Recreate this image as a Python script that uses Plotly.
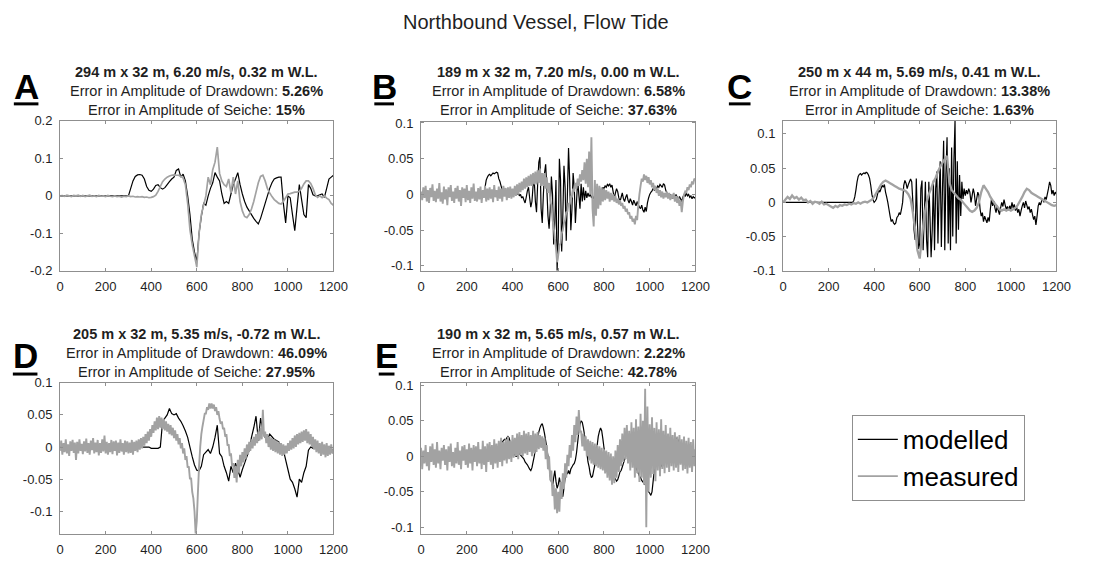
import numpy as np
import plotly.graph_objects as go

# ---------------------------------------------------------------------------
# Water-level records (m) versus time (s), 0-1200 s.
# Step-10 series hold 121 samples, step-5 series hold 241 samples.
# ---------------------------------------------------------------------------

# Panel A: 294 m x 32 m, 6.20 m/s, 0.32 m W.L.
a_modelled = (
    [0.0] * 10
    + [0.0] * 10
    + [0.0] * 10
    + [0.000, 0.020, 0.040, 0.052, 0.056, 0.057, 0.055, 0.045, 0.025, 0.015]
    + [0.012, 0.018, 0.028, 0.030, 0.022, 0.018, 0.022, 0.030, 0.038, 0.045]
    + [0.050, 0.068, 0.072, 0.050, 0.058, 0.040, 0.000, -0.050, -0.115, -0.150]
    + [-0.175, -0.100, -0.055, -0.020, -0.025, 0.000, 0.020, 0.035, 0.062, 0.050]
    + [0.040, 0.005, -0.020, -0.015, -0.020, 0.005, 0.030, 0.045, 0.062, 0.030]
    + [0.005, -0.015, -0.030, -0.040, -0.050, -0.060, -0.068, -0.075, -0.060, -0.040]
    + [-0.020, 0.000, 0.020, 0.035, 0.045, 0.048, 0.050, 0.050, -0.020, -0.072]
    + [0.000, -0.005, -0.050, -0.093, -0.030, 0.030, -0.010, -0.050, -0.058, 0.030]
    + [0.020, 0.003, 0.000, 0.000, 0.003, 0.005, -0.004, 0.020, 0.045, 0.050]
    + [0.055]
)
a_measured = (
    [0.000, 0.001, -0.001, 0.002, 0.000, -0.002, 0.001, 0.000, 0.002, -0.001]
    + [0.001, -0.002, 0.000, 0.002, -0.001, 0.000, -0.002, 0.001, -0.001, 0.000]
    + [-0.002, 0.001, -0.001, -0.002, 0.000, -0.002, -0.001, -0.003, -0.001, -0.002]
    + [0.000, -0.002, -0.001, -0.003, -0.002, -0.003, -0.002, -0.004, -0.003, -0.005]
    + [-0.004, -0.002, 0.002, 0.012, 0.025, 0.038, 0.045, 0.050, 0.053, 0.055]
    + [0.056, 0.055, 0.055, 0.052, 0.048, 0.030, -0.020, -0.090, -0.130, -0.160]
    + [-0.190, -0.100, -0.050, -0.025, 0.000, 0.050, 0.030, 0.070, 0.090, 0.130]
    + [0.060, 0.040, 0.030, 0.025, 0.045, 0.008, 0.050, 0.005, 0.040, -0.015]
    + [-0.040, -0.055, -0.058, -0.050, -0.035, -0.015, 0.010, 0.035, 0.052, 0.055]
    + [0.040, 0.020, 0.008, -0.002, -0.010, -0.015, -0.020, -0.022, -0.015, -0.005]
    + [0.005, 0.006, 0.008, 0.010, 0.010, 0.012, 0.020, 0.032, 0.040, 0.040]
    + [0.033, 0.020, 0.003, -0.004, 0.000, -0.005, 0.000, -0.006, -0.010, -0.020]
    + [-0.025]
)

# Panel B: 189 m x 32 m, 7.20 m/s, 0.00 m W.L.
b_modelled = (
    [0.0] * 20
    + [0.0] * 20
    + [0.0] * 16 + [0.010, 0.020, 0.024, 0.027]
    + [0.028, 0.026, 0.028, 0.030, 0.029, 0.030, 0.031, 0.030, 0.022, 0.018,
       0.012, 0.006, 0.002, 0.000, 0.001, 0.003, 0.005, 0.002, 0.004, 0.000]
    + [0.003, 0.005, 0.002, 0.004, 0.000, 0.003, -0.002, 0.000, -0.005, -0.003,
       -0.008, -0.012, -0.004, 0.005, 0.010, -0.005, -0.018, -0.010, 0.012, 0.020]
    + [-0.010, -0.025, 0.015, 0.045, 0.052, -0.020, -0.040, 0.000, 0.030, 0.042,
       0.010, -0.030, -0.048, -0.020, 0.025, 0.000, -0.070, -0.040, 0.020, -0.107]
    + [-0.060, 0.050, 0.020, -0.080, -0.030, 0.040, 0.010, -0.065, 0.000, 0.065,
       0.020, -0.050, -0.020, 0.030, 0.010, -0.040, -0.010, 0.020, 0.000, -0.020]
    + [0.015, -0.010, 0.010, -0.008, 0.005, -0.005, 0.002, -0.003, 0.000, -0.004,
       -0.002, -0.006, -0.002, 0.003, -0.004, 0.002, 0.002, 0.006, 0.004, 0.010]
    + [0.008, 0.012, 0.010, 0.014, 0.012, 0.015, 0.010, 0.013, 0.004, -0.006,
       0.002, 0.008, 0.004, -0.005, -0.010, -0.004, 0.002, -0.006, -0.010, -0.004]
    + [0.000, -0.008, -0.012, -0.006, -0.010, -0.015, -0.008, -0.012, -0.016, -0.010,
       -0.014, -0.018, -0.020, -0.015, -0.022, -0.025, -0.018, -0.024, -0.012, -0.005]
    + [0.000, 0.003, 0.005, 0.008, 0.006, 0.010, 0.008, 0.012, 0.010, 0.014,
       0.012, 0.010, 0.015, 0.013, 0.006, 0.002, 0.000, -0.004, 0.000, -0.003]
    + [-0.006, -0.002, -0.005, 0.000, -0.004, -0.008, -0.003, -0.006, -0.010, -0.004,
       0.000, -0.003, 0.002, -0.002, 0.000, -0.004, -0.002, -0.006, -0.003, -0.005]
    + [-0.004]
)
b_measured = (
    [0.004, -0.008, 0.010, -0.005, 0.012, -0.010, 0.006, -0.012, 0.009, -0.004,
     0.014, -0.009, 0.005, -0.011, 0.008, -0.006, 0.016, -0.010, 0.003, -0.013]
    + [0.011, -0.007, 0.007, -0.015, 0.010, -0.004, 0.013, -0.009, 0.004, -0.012,
       0.009, -0.006, 0.012, -0.010, 0.006, -0.016, 0.010, -0.005, 0.008, -0.011]
    + [0.013, -0.008, 0.005, -0.012, 0.010, -0.006, 0.015, -0.009, 0.004, -0.010,
       0.009, -0.007, 0.011, -0.012, 0.006, -0.005, 0.012, -0.010, 0.008, -0.008]
    + [0.010, -0.006, 0.007, -0.011, 0.013, -0.004, 0.006, -0.009, 0.011, -0.006,
       0.008, -0.010, 0.012, -0.003, 0.009, -0.008, 0.010, -0.005, 0.011, -0.006]
    + [0.008, -0.004, 0.012, -0.002, 0.014, 0.000, 0.016, 0.003, 0.018, 0.006,
       0.022, 0.008, 0.024, 0.010, 0.026, 0.012, 0.028, 0.012, 0.030, 0.014]
    + [0.032, 0.014, 0.034, 0.016, 0.036, 0.012, 0.030, 0.012, 0.030, 0.008,
       0.024, 0.002, 0.016, -0.008, -0.015, -0.035, -0.045, -0.062, -0.075, -0.095]
    + [-0.085, -0.072, -0.068, -0.055, -0.050, -0.040, -0.036, -0.025, -0.024, -0.012,
       -0.014, -0.002, -0.004, 0.008, 0.004, 0.016, 0.008, 0.022, 0.012, 0.028]
    + [0.018, 0.034, 0.020, 0.045, 0.015, 0.050, 0.010, 0.060, 0.000, 0.080,
       -0.020, -0.045, 0.020, -0.030, 0.015, -0.020, 0.012, -0.015, 0.010, -0.010]
    + [0.008, -0.008, 0.006, -0.006, 0.004, -0.010, 0.002, -0.008, 0.000, -0.010,
       -0.002, -0.012, -0.006, -0.014, -0.008, -0.016, -0.012, -0.020, -0.016, -0.024]
    + [-0.020, -0.028, -0.025, -0.034, -0.030, -0.038, -0.034, -0.042, -0.030, -0.036,
       -0.015, 0.000, 0.012, 0.022, 0.018, 0.028, 0.020, 0.026, 0.016, 0.024]
    + [0.014, 0.020, 0.010, 0.016, 0.006, 0.012, 0.002, 0.008, -0.002, 0.006,
       -0.004, 0.004, -0.006, 0.002, -0.004, 0.004, -0.006, 0.002, -0.008, 0.000]
    + [-0.006, 0.002, -0.010, -0.002, -0.012, -0.004, -0.016, -0.008, -0.025, -0.010,
       0.000, 0.004, 0.002, 0.010, 0.006, 0.014, 0.010, 0.018, 0.014, 0.022]
    + [0.020]
)

# Panel C: 250 m x 44 m, 5.69 m/s, 0.41 m W.L.
c_modelled = (
    [0.0] * 20
    + [0.0] * 20
    + [0.0] * 20
    + [0.000, 0.000, 0.002, 0.008, 0.018, 0.030, 0.038, 0.041, 0.042, 0.040,
       0.042, 0.043, 0.042, 0.044, 0.043, 0.040, 0.035, 0.025, 0.012, 0.004]
    + [0.000, 0.002, 0.005, 0.012, 0.018, 0.015, 0.020, 0.025, 0.022, 0.026,
       0.015, 0.008, 0.000, -0.010, -0.020, -0.028, -0.025, -0.030, -0.032, -0.030]
    + [-0.022, -0.020, -0.015, -0.018, -0.010, 0.000, 0.025, 0.032, 0.028, 0.020,
       0.026, 0.030, 0.034, 0.030, 0.000, -0.040, -0.055, 0.035, -0.030, -0.068]
    + [-0.060, 0.020, 0.032, -0.070, -0.020, 0.030, -0.055, -0.080, 0.030, -0.020,
       -0.080, -0.040, 0.032, -0.070, 0.020, 0.045, -0.060, 0.010, 0.060, -0.065]
    + [0.020, 0.090, -0.070, 0.040, 0.095, -0.060, 0.050, -0.070, 0.080, -0.050,
       0.060, 0.120, -0.060, 0.060, -0.040, 0.040, -0.020, 0.030, 0.005, 0.020]
    + [0.010, 0.018, 0.012, 0.020, 0.015, 0.000, 0.010, 0.020, 0.012, -0.005,
       0.005, 0.015, 0.010, -0.010, -0.020, -0.015, -0.028, -0.020, -0.025, -0.030]
    + [-0.022, -0.028, -0.010, 0.005, -0.005, 0.002, -0.008, -0.015, -0.005, -0.012,
       -0.018, -0.008, 0.000, -0.006, 0.004, -0.004, -0.010, -0.006, -0.012, -0.005]
    + [-0.010, 0.000, -0.008, -0.003, -0.012, -0.006, -0.015, -0.010, -0.020, -0.012,
       -0.005, 0.000, -0.008, 0.002, -0.004, -0.010, -0.006, -0.015, -0.010, -0.018]
    + [-0.025, -0.020, -0.033, -0.020, -0.005, 0.000, -0.004, 0.002, 0.005, 0.000,
       0.008, 0.004, 0.012, 0.020, 0.030, 0.025, 0.012, 0.018, 0.010, 0.015]
    + [0.012]
)
c_measured = (
    [0.000, 0.004, 0.008, 0.005, 0.010, 0.006, 0.008, 0.004, 0.007, 0.003]
    + [0.004, 0.000, 0.002, -0.002, 0.001, 0.000, -0.002, 0.001, -0.003, -0.002]
    + [-0.004, -0.006, -0.008, -0.005, -0.007, -0.004, -0.005, -0.003, -0.004, -0.002]
    + [-0.003, -0.001, -0.002, 0.000, -0.002, 0.000, 0.001, 0.000, 0.002, 0.004]
    + [0.008, 0.014, 0.020, 0.026, 0.030, 0.032, 0.030, 0.028, 0.026, 0.024]
    + [0.022, 0.020, 0.019, 0.018, 0.016, 0.012, 0.005, -0.015, -0.040, -0.070]
    + [-0.082, -0.050, -0.020, 0.000, 0.012, 0.020, 0.030, 0.036, 0.045, 0.052]
    + [0.058, 0.063, 0.068, 0.030, 0.018, 0.014, 0.010, 0.006, 0.004, 0.000]
    + [-0.004, -0.008, -0.012, -0.014, -0.012, -0.008, 0.000, 0.015, 0.025, 0.020]
    + [0.015, 0.008, 0.003, -0.002, -0.006, -0.010, -0.012, -0.010, -0.012, -0.010]
    + [-0.012, -0.010, -0.008, -0.004, 0.002, 0.008, 0.015, 0.020, 0.018, 0.014]
    + [0.012, 0.010, 0.008, 0.006, 0.004, 0.002, 0.000, -0.002, -0.004, -0.005]
    + [-0.004]
)

# Panel D: 205 m x 32 m, 5.35 m/s, -0.72 m W.L.
d_modelled = (
    [0.0] * 10
    + [0.0] * 10
    + [0.0] * 10
    + [0.0] * 10
    + [-0.002, -0.002, -0.002, -0.002, 0.000, 0.040, 0.045, 0.050, 0.060, 0.052]
    + [0.050, 0.052, 0.045, 0.040, 0.033, 0.025, 0.015, 0.000, -0.015, -0.028]
    + [-0.036, -0.037, -0.030, -0.012, -0.008, -0.004, -0.010, 0.000, 0.015, 0.034]
    + [-0.010, -0.015, -0.030, -0.040, -0.053, -0.030, -0.040, -0.025, -0.035, -0.047]
    + [-0.035, -0.025, -0.015, -0.005, 0.015, 0.030, 0.048, 0.010, 0.045, 0.025]
    + [0.015, 0.012, 0.020, 0.016, 0.012, 0.010, 0.008, 0.002, -0.005, -0.020]
    + [-0.035, -0.050, -0.055, -0.065, -0.078, -0.050, -0.055, -0.040, -0.030, -0.005]
    + [0.000, -0.002, 0.000, -0.003, -0.002, 0.000, -0.003, -0.004, -0.005, -0.004]
    + [-0.005]
)
d_measured = (
    [-0.006, 0.010, -0.012, 0.006, -0.008, 0.012, -0.010, 0.004, -0.014, 0.009,
     -0.006, 0.011, -0.009, 0.007, -0.020, 0.008, -0.010, 0.012, -0.006, 0.005]
    + [-0.011, 0.009, -0.007, 0.013, -0.009, 0.006, -0.012, 0.010, -0.005, 0.014,
       -0.010, 0.007, -0.008, 0.011, -0.013, 0.006, -0.009, 0.012, -0.007, 0.018]
    + [-0.010, 0.008, -0.012, 0.006, -0.008, 0.011, -0.011, 0.009, -0.006, 0.010,
       -0.013, 0.007, -0.009, 0.012, -0.007, 0.006, -0.012, 0.010, -0.008, 0.009]
    + [-0.010, 0.007, -0.009, 0.011, -0.012, 0.008, -0.006, 0.010, -0.008, 0.012,
       -0.004, 0.014, -0.002, 0.016, 0.002, 0.020, 0.006, 0.024, 0.010, 0.028]
    + [0.016, 0.034, 0.022, 0.040, 0.026, 0.046, 0.028, 0.048, 0.030, 0.046,
       0.028, 0.044, 0.026, 0.040, 0.024, 0.036, 0.020, 0.034, 0.018, 0.030]
    + [0.014, 0.026, 0.010, 0.020, 0.004, 0.014, -0.002, 0.006, -0.010, -0.002,
       -0.020, -0.014, -0.032, -0.030, -0.050, -0.048, -0.070, -0.080, -0.100, -0.135]
    + [-0.115, -0.070, -0.030, 0.000, 0.020, 0.032, 0.042, 0.052, 0.052, 0.062,
       0.058, 0.068, 0.060, 0.068, 0.060, 0.066, 0.056, 0.062, 0.050, 0.056]
    + [0.044, 0.036, 0.040, 0.028, 0.030, 0.016, 0.020, 0.002, 0.004, -0.014,
       -0.010, -0.030, -0.025, -0.048, -0.030, -0.055, -0.020, -0.040, -0.012, -0.030]
    + [-0.008, -0.024, -0.002, -0.018, 0.004, -0.012, 0.008, -0.006, 0.012, -0.002,
       0.016, 0.002, 0.020, 0.006, 0.024, 0.010, 0.030, 0.012, 0.058, 0.016]
    + [0.024, 0.006, 0.020, 0.000, 0.016, -0.004, 0.014, -0.006, 0.012, -0.008,
       0.010, -0.010, 0.008, -0.012, 0.006, -0.014, 0.004, -0.012, 0.002, -0.010]
    + [0.006, -0.006, 0.010, -0.004, 0.014, -0.002, 0.018, 0.000, 0.020, 0.004,
       0.022, 0.006, 0.024, 0.008, 0.026, 0.010, 0.028, 0.006, 0.024, 0.004]
    + [0.020, 0.000, 0.016, -0.004, 0.012, -0.008, 0.010, -0.010, 0.006, -0.014,
       0.008, -0.012, 0.004, -0.016, 0.006, -0.014, 0.002, -0.012, 0.004, -0.010]
    + [-0.008]
)

# Panel E: 190 m x 32 m, 5.65 m/s, 0.57 m W.L.
e_modelled = (
    [0.0] * 20
    + [0.0] * 20
    + [0.0] * 20
    + [0.000, 0.000, 0.000, 0.000, 0.002, 0.004, 0.006, 0.008, 0.010, 0.015,
       0.018, 0.020, 0.022, 0.024, 0.023, 0.026, 0.028, 0.026, 0.020, 0.014]
    + [0.008, 0.004, 0.002, 0.000, 0.000, 0.002, 0.004, 0.002, 0.000, -0.002,
       -0.004, -0.008, -0.010, -0.012, -0.015, -0.018, -0.020, -0.016, -0.008, 0.000]
    + [0.010, 0.018, 0.026, 0.034, 0.040, 0.044, 0.046, 0.040, 0.032, 0.022,
       0.012, 0.000, -0.015, -0.028, -0.036, -0.042, -0.030, -0.020, -0.035, -0.045]
    + [-0.040, -0.030, -0.040, -0.050, -0.057, -0.045, -0.030, -0.020, -0.025, -0.020,
       -0.025, -0.018, -0.015, -0.012, -0.010, -0.005, 0.005, 0.020, 0.035, 0.045]
    + [0.050, 0.048, 0.040, 0.030, 0.018, 0.005, -0.008, -0.015, -0.025, -0.030,
       -0.028, -0.020, -0.012, 0.000, 0.015, 0.028, 0.035, 0.040, 0.036, 0.025]
    + [0.012, 0.002, -0.004, -0.008, -0.010, -0.012, -0.015, -0.020, -0.025, -0.030,
       -0.032, -0.035, -0.033, -0.028, -0.022, -0.020, -0.015, -0.010, -0.005, 0.000]
    + [0.004, 0.006, 0.004, 0.002, 0.000, -0.004, -0.008, -0.012, -0.016, -0.020,
       -0.024, -0.028, -0.030, -0.034, -0.036, -0.038, -0.040, -0.042, -0.045, -0.050]
    + [-0.052, -0.055, -0.050, -0.035, -0.020, -0.012, -0.008, -0.005, -0.004, -0.008,
       -0.012, -0.015, -0.010, -0.004, 0.000, 0.004, 0.008, 0.010, 0.012, 0.015]
    + [0.018, 0.020, 0.022, 0.025, 0.026, 0.022, 0.018, 0.014, 0.010, 0.006,
       0.004, 0.002, 0.000, -0.002, -0.003, -0.004, -0.003, -0.002, -0.002, -0.001]
    + [0.000]
)
e_measured = (
    [0.012, -0.018, 0.008, -0.010, 0.016, -0.014, 0.006, -0.020, 0.014, -0.008,
     0.018, -0.012, 0.010, -0.016, 0.020, -0.010, 0.008, -0.018, 0.012, -0.006]
    + [0.016, -0.012, 0.010, -0.020, 0.014, -0.008, 0.018, -0.014, 0.006, -0.016,
       0.012, -0.010, 0.020, -0.012, 0.008, -0.018, 0.014, -0.006, 0.016, -0.012]
    + [0.010, -0.016, 0.018, -0.010, 0.012, -0.020, 0.016, -0.008, 0.014, -0.014,
       0.020, -0.010, 0.010, -0.018, 0.022, -0.012, 0.014, -0.022, 0.018, -0.008]
    + [0.020, -0.012, 0.016, -0.018, 0.024, -0.010, 0.018, -0.016, 0.022, -0.008,
       0.026, -0.014, 0.020, -0.006, 0.024, -0.010, 0.028, -0.004, 0.022, -0.008]
    + [0.030, -0.002, 0.026, 0.000, 0.032, -0.004, 0.034, 0.002, 0.030, 0.000,
       0.036, 0.004, 0.032, 0.002, 0.034, 0.006, 0.030, 0.000, 0.036, 0.004]
    + [0.032, 0.006, 0.034, 0.010, 0.030, 0.012, 0.028, 0.008, 0.026, -0.004,
       0.016, -0.018, 0.000, -0.034, -0.020, -0.056, -0.040, -0.075, -0.045, -0.080]
    + [-0.050, -0.078, -0.036, -0.060, -0.024, -0.046, -0.010, -0.030, 0.002, -0.014,
       0.016, -0.002, 0.030, 0.008, 0.044, 0.020, 0.056, 0.030, 0.065, 0.034]
    + [0.036, 0.014, 0.032, 0.008, 0.028, 0.000, 0.024, -0.006, 0.022, -0.010,
       0.020, -0.012, 0.018, -0.014, 0.016, -0.016, 0.014, -0.018, 0.012, -0.020]
    + [0.010, -0.024, 0.008, -0.030, 0.006, -0.034, 0.004, -0.040, 0.000, -0.038,
       0.008, -0.030, 0.016, -0.022, 0.024, -0.014, 0.032, -0.008, 0.040, -0.004]
    + [0.044, -0.010, 0.036, -0.020, 0.048, -0.016, 0.040, -0.030, 0.052, -0.024,
       0.042, -0.036, 0.060, -0.030, 0.050, -0.040, 0.095, -0.100, 0.070, -0.050]
    + [0.045, -0.030, 0.055, -0.025, 0.040, -0.035, 0.048, -0.020, 0.038, -0.028,
       0.052, -0.018, 0.036, -0.024, 0.044, -0.016, 0.032, -0.022, 0.040, -0.014]
    + [0.030, -0.020, 0.034, -0.016, 0.028, -0.022, 0.030, -0.012, 0.024, -0.020,
       0.028, -0.018, 0.022, -0.024, 0.026, -0.016, 0.020, -0.022, 0.024, -0.014]
    + [0.010]
)

# Panel captions
panel_letters = ["A", "B", "C", "D", "E"]
vessel_runs = [
    "294 m x 32 m, 6.20 m/s, 0.32 m W.L.",
    "189 m x 32 m, 7.20 m/s, 0.00 m W.L.",
    "250 m x 44 m, 5.69 m/s, 0.41 m W.L.",
    "205 m x 32 m, 5.35 m/s, -0.72 m W.L.",
    "190 m x 32 m, 5.65 m/s, 0.57 m W.L.",
]
drawdown_errors = ["5.26%", "6.58%", "13.38%", "46.09%", "2.22%"]
seiche_errors = ["15%", "37.63%", "1.63%", "27.95%", "42.78%"]

# Axis ticks
x_ticks = [0, 200, 400, 600, 800, 1000, 1200]
y_ticks_a = [-0.2, -0.1, 0, 0.1, 0.2]
y_labels_a = ["-0.2", "-0.1", "0", "0.1", "0.2"]
y_ticks_small = [-0.1, -0.05, 0, 0.05, 0.1]
y_labels_small = ["-0.1", "-0.05", "0", "0.05", "0.1"]

series_modelled = [a_modelled, b_modelled, c_modelled, d_modelled, e_modelled]
series_measured = [a_measured, b_measured, c_measured, d_measured, e_measured]

# ---------------------------------------------------------------------------
# Layout (pixel geometry of each axes box: left, right, top, bottom)
# ---------------------------------------------------------------------------
W, H = 1096, 568
FONT = "Liberation Sans, Arial, Helvetica, sans-serif"
TEXT = "#1f1f1f"
FRAME = "#8f8f8f"
GREY = "#a2a2a2"

boxes = [
    (57, 335, 117, 271),
    (424, 703, 118, 271),
    (792, 1070, 117, 271),
    (57, 335, 386, 541),
    (424, 703, 386, 541),
]
y_ranges = [[-0.2, 0.2], [-0.107, 0.1015], [-0.1, 0.119], [-0.135, 0.1], [-0.109, 0.1035]]
# dense records need a wider stroke so the noise reads as a solid band
measured_widths = [1.7, 1.9, 2.3, 1.9, 1.9]

fig = go.Figure()

for i in range(5):
    ax = "" if i == 0 else str(i + 1)
    mod = series_modelled[i]
    meas = series_measured[i]
    t_mod = np.linspace(0, 1200, len(mod))
    t_meas = np.linspace(0, 1200, len(meas))
    fig.add_trace(go.Scatter(
        x=t_mod, y=mod, mode="lines", name="modelled",
        line=dict(color="black", width=1.2, simplify=False),
        xaxis="x" + ax, yaxis="y" + ax, showlegend=(i == 0),
    ))
    fig.add_trace(go.Scatter(
        x=t_meas, y=meas, mode="lines", name="measured",
        line=dict(color=GREY, width=measured_widths[i], simplify=False),
        xaxis="x" + ax, yaxis="y" + ax, showlegend=(i == 0),
    ))

    left, right, top, bottom = boxes[i]
    common = dict(
        showline=True, linecolor=FRAME, linewidth=1, mirror="ticks",
        ticks="inside", ticklen=3, tickcolor=FRAME, tickwidth=1,
        showgrid=False, zeroline=False,
        tickfont=dict(family=FONT, size=13, color=TEXT),
        ticklabelstandoff=4,
    )
    if i == 0:
        yt, yl = y_ticks_a, y_labels_a
    else:
        yt, yl = y_ticks_small, y_labels_small
    fig.update_layout(**{
        "xaxis" + ax: dict(
            domain=[left / W, right / W], range=[0, 1200],
            tickmode="array", tickvals=x_ticks,
            anchor="y" + ax, **common,
        ),
        "yaxis" + ax: dict(
            domain=[1 - bottom / H, 1 - top / H], range=y_ranges[i],
            tickmode="array", tickvals=yt, ticktext=yl,
            anchor="x" + ax, **common,
        ),
    })

annotations = []
shapes = []

# Figure title
annotations.append(dict(
    text="Northbound Vessel, Flow Tide", x=541 / W, y=1 - 15 / H,
    xref="paper", yref="paper", xanchor="center", yanchor="middle",
    showarrow=False, font=dict(family=FONT, size=20, color=TEXT),
))

letter_x = [22.5, 386.5, 748, 21.5, 389]
underline_half = [12.5, 10, 11, 12.5, 8]
for i in range(5):
    left, right, top, bottom = boxes[i]
    cx = (left + right) / 2
    row_off = 0 if i < 3 else 269
    lines = [
        "<b>" + vessel_runs[i] + "</b>",
        "Error in Amplitude of Drawdown: <b>" + drawdown_errors[i] + "</b>",
        "Error in Amplitude of Seiche: <b>" + seiche_errors[i] + "</b>",
    ]
    for k, txt in enumerate(lines):
        yc = [66.7, 86.7, 105.7][k] + row_off
        annotations.append(dict(
            text=txt, x=cx / W, y=1 - yc / H, xref="paper", yref="paper",
            xanchor="center", yanchor="middle", showarrow=False,
            font=dict(family=FONT, size=14.5, color=TEXT),
        ))
    # Panel letter with a heavy underline
    ly = 81.5 if i < 3 else 357.5
    uy = 99.5 if i < 3 else 377
    annotations.append(dict(
        text="<b>" + panel_letters[i] + "</b>", x=letter_x[i] / W, y=1 - ly / H,
        xref="paper", yref="paper", xanchor="center", yanchor="middle",
        showarrow=False, font=dict(family=FONT, size=35, color="black"),
    ))
    shapes.append(dict(
        type="line", xref="paper", yref="paper",
        x0=(letter_x[i] - underline_half[i]) / W, x1=(letter_x[i] + underline_half[i]) / W,
        y0=1 - uy / H, y1=1 - uy / H, line=dict(color="black", width=3),
    ))

fig.update_layout(
    width=W, height=H, autosize=False,
    margin=dict(l=0, r=0, t=0, b=0),
    paper_bgcolor="white", plot_bgcolor="white",
    annotations=annotations, shapes=shapes,
    showlegend=True,
    legend=dict(
        x=862 / W, y=1 - 419 / H, xanchor="left", yanchor="top",
        bgcolor="white", bordercolor=FRAME, borderwidth=1,
        font=dict(family=FONT, size=26, color="black"),
        itemwidth=40, tracegroupgap=0,
    ),
)

fig.write_html("out.html")
